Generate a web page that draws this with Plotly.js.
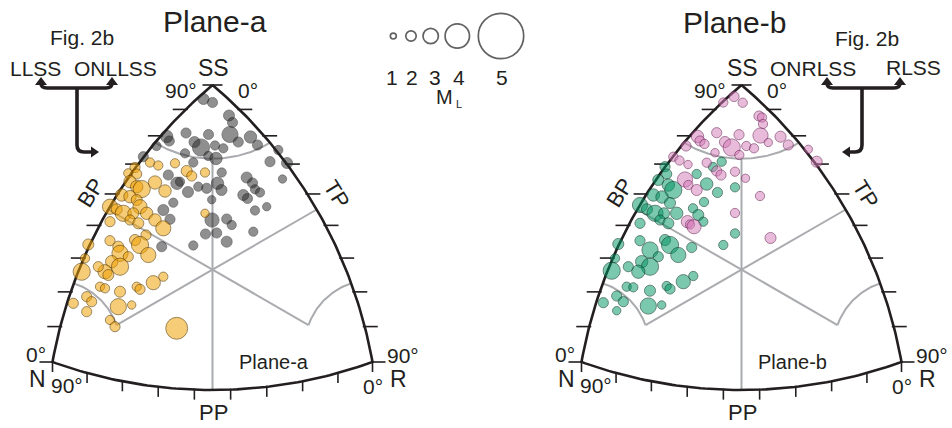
<!DOCTYPE html>
<html><head><meta charset="utf-8">
<script src="https://cdn.plot.ly/plotly-3.0.1.min.js"></script>
<style>html,body{margin:0;padding:0;background:#fff}#chart{width:952px;height:428px}</style>
</head><body><div id="chart"></div>
<script>
// ---------------- DATA (projected diagram coordinates, local magnitude ML) ----------------
// Plane-a (left diagram)
const grayX = [203.5,212.5,229,232.5,186,208.5,230,238.3,250.5,257.5,166.7,169.3,156.5,194.5,201,215,223.3,208.3,216,185,193.3,143.3,278.3,287,270,282.5,168.3,177,188,180,198.3,206.7,217.5,221.5,221.7,246.7,252.5,243.3,247.5,255,260,255,266.7,173.3,211.7,212,226.7,231.7,205.5,216.7,226.7,193.3,170,163.3,161.7,253.3];
const grayY = [99,102.5,115.5,122.5,133,134.5,134.5,142,137,145,136.5,141,146,142,147.5,145.5,148.3,156,158.5,153.3,162.5,156.7,150,163,161.7,179,175,183.3,192,181.7,186.7,188.3,183.3,190,172.5,177.5,183,195,198.5,189.3,192.5,210.5,206.7,202.7,199.7,220,219,225,234,233,241.7,245.5,219.3,210,246.7,231.7];
const grayML = [1.3,1.1,1.3,1.1,1.1,1.1,2.4,1.1,1.6,1.1,1.6,1.1,0.9,1.3,2.6,0.9,0.9,0.9,1.6,0.9,0.9,1.1,0.9,1.3,1.1,0.7,1.1,1.6,1.3,0.9,0.9,1.1,1.6,1.3,0.9,1.3,1.1,1.3,1.1,0.9,0.9,0.9,0.7,0.9,0.7,2.0,1.1,0.9,1.1,1.1,1.3,0.9,1.1,1.3,1.1,0.9];

const orangeX = [150,158.3,175,186.7,191.7,205,135,128.3,136.7,130,136.7,141.7,155,165,121.7,130,136.7,140,110,116.7,123.3,133.3,146.7,130,138.3,155,163.3,110,88.3,110,135,146,140,148.3,118.3,120,128.3,111.7,120,105,108.3,98.3,85,81.7,100,105,120,136.7,140,153.3,163.3,86.7,91.7,73.3,86.7,118.3,131.7,110,115,176.7,205];
const orangeY = [162.5,165.5,163.3,171,176,172.5,167.5,173.3,174,181.7,186.7,189,182.5,191,195,196.7,200,206.7,206.7,209.3,213.3,213.3,213.3,220,223.3,220,228.3,221.7,244.5,240.7,240,235,245,255,246.7,253.3,256.7,261.7,266.7,271.7,275,266.7,258.3,271.7,286.7,288.3,291.7,286.7,289.3,282.7,276.7,296.7,301.7,303.3,311.7,306.7,305,320,326.7,328.3,213.3];
const orangeML = [0.9,0.9,0.9,1.3,1.1,0.9,1.1,0.9,1.1,1.6,1.6,2.6,1.8,1.6,1.6,1.6,1.3,2.0,2.2,1.3,2.4,1.3,1.6,1.1,1.3,1.6,2.2,1.1,1.3,1.1,1.3,1.1,2.6,2.2,1.3,2.4,1.1,1.6,2.6,2.0,1.3,1.1,0.9,2.6,0.9,0.9,1.3,0.9,1.1,2.0,0.9,1.1,1.1,1.1,1.1,2.4,0.7,0.9,1.1,3.3,0.7];

// Plane-b (right diagram)
const pinkX = [205,194.3,213.7,230,233,234,187.7,210,231.5,251.5,239.3,259.3,168.5,171,175.5,157,196,202.7,217.3,225,186,210.3,144.3,150.5,159,177.7,187.7,192,206,216.5,156,159.3,167.7,231,206,158.5,161,165,241.5,279.3,287.7];
const pinkY = [96.5,102.5,102.7,116,117.5,124,132.7,134.7,135.5,136.7,142.5,145,136.5,141,144,146,142,147.5,146,148.3,152.7,155,156.7,160.5,164.5,162.7,171,175,171.7,178.3,179.5,185,190,196,213,221.7,224.5,226.7,238,149.3,161.7];
const pinkML = [1.1,0.9,0.9,1.1,0.9,0.9,1.1,1.1,2.2,1.3,0.7,1.1,1.6,1.1,0.9,1.1,1.3,2.6,0.9,0.9,0.7,0.9,0.9,0.9,0.7,0.9,1.1,1.1,0.9,0.7,2.2,0.9,1.3,0.9,0.9,1.6,0.9,2.0,1.3,0.7,1.3];

const greenX = [136,137.7,129.3,139.3,144.3,124.3,133,141,111,118,126,135,147.7,131,139.3,111,167.7,177.7,188.5,192.7,184,206,175,164,169.3,174.3,206,194.3,162.7,136,111,141,149.3,121,129.3,89.3,112.7,121,109.3,99.3,86,82.7,97.7,104.3,121,137.7,141,154.3,164.3,87.7,94.3,74.3,87.7,119.3,132.7];
const greenY = [166.7,174,180,185,190,195,197,203,205,209.3,213.3,213.3,213.3,220,223.3,223.3,174,184,192.5,161.7,167,187.3,202,208.3,215,221.7,233.5,245,247.5,240,240.7,245,255,250,256.7,244,261.7,266.7,271.7,266.7,258.3,270.7,286.7,287.3,290.7,286,289,281.7,276,296,301.7,302.7,310.7,306,305];
const greenML = [1.1,1.1,1.3,1.6,2.6,1.6,1.6,1.3,2.2,1.3,2.4,1.3,1.6,1.1,1.3,1.1,0.9,1.6,1.1,0.9,0.9,0.9,0.9,0.9,1.3,0.9,0.9,0.9,1.1,1.3,1.1,2.6,2.2,2.4,1.1,1.3,1.6,2.6,1.8,1.1,0.9,2.6,0.9,0.9,1.3,0.9,1.1,2.0,0.9,1.1,1.1,1.1,0.7,2.4,0.7];

// magnitude key
const magLevels = [1,2,3,4,5];
const magLabels = ['1','2','3','4','5'];

// ---------------- STYLE ----------------
const FONT = 'Liberation Sans, Arial, Helvetica, sans-serif';
const INK = '#231f20';
const GREY = '#a9abae';
const keyDiam = [7.5,12,17,26,47];           // outer diameter (px) of the ML 1..5 key circles
function diamFor(m){
  if (m <= 1) return keyDiam[0] + (m-1)*(keyDiam[1]-keyDiam[0]);
  const i = Math.min(Math.floor(m)-1, 3);
  return keyDiam[i] + (m-(i+1))*(keyDiam[i+1]-keyDiam[i]);
}

// ---------------- DIAGRAM GEOMETRY (shared by both panels) ----------------
const A=[212.5,85], L=[52.5,362], R=[372.5,362];
const C=[(A[0]+L[0]+R[0])/3,(A[1]+L[1]+R[1])/3];
const SAG=28;
function arc(p0,p1,s,away){
  const mx=(p0[0]+p1[0])/2, my=(p0[1]+p1[1])/2;
  const dx=p1[0]-p0[0], dy=p1[1]-p0[1], c=Math.hypot(dx,dy);
  let ux=-dy/c, uy=dx/c;
  if ((mx-away[0])*ux+(my-away[1])*uy<0){ux=-ux;uy=-uy;}
  const r=(c*c/4+s*s)/(2*s);
  const ox=mx+ux*(s-r), oy=my+uy*(s-r);
  const a0=Math.atan2(p0[1]-oy,p0[0]-ox);
  let da=Math.atan2(p1[1]-oy,p1[0]-ox)-a0;
  while(da>Math.PI)da-=2*Math.PI; while(da<-Math.PI)da+=2*Math.PI;
  return t=>[ox+r*Math.cos(a0+da*t), oy+r*Math.sin(a0+da*t)];
}
function sample(f,xs,ys,n=80,rev=false){
  for(let i=0;i<=n;i++){const p=f(rev?1-i/n:i/n);xs.push(p[0]);ys.push(p[1]);}
}
const lerp=(p,q,t)=>[p[0]+(q[0]-p[0])*t,p[1]+(q[1]-p[1])*t];
const eL=arc(A,L,SAG,C), eB=arc(L,R,SAG,C), eR=arc(A,R,SAG,C);

function frameTraces(xa){
  const out=[];
  const gx=[],gy=[];
  const seg=(f)=>{sample(f,gx,gy,60);gx.push(null);gy.push(null);};
  const ss=arc(eL(0.25),eR(0.25),16,A); seg(ss);
  const nC=lerp(C,L,0.6), rC=lerp(C,R,0.6);
  seg(arc(eL(0.75),nC,7,L)); seg(arc(eR(0.75),rC,7,R));
  [ss(0.5),eB(0.5),eL(0.5),eR(0.5),nC,rC].forEach(p=>{gx.push(C[0],p[0],null);gy.push(C[1],p[1],null);});
  out.push({x:gx,y:gy,xaxis:xa,yaxis:'y',mode:'lines',line:{color:GREY,width:2},hoverinfo:'skip'});
  const ox=[],oy=[];
  sample(eL,ox,oy); sample(eB,ox,oy); sample(eR,ox,oy,80,true);
  out.push({x:ox,y:oy,xaxis:xa,yaxis:'y',mode:'lines',line:{color:INK,width:2.6},hoverinfo:'skip'});
  const tx=[],ty=[];
  for(let k=1;k<9;k++){
    let p=eL(k/9); tx.push(p[0]+2,p[0]-13,null); ty.push(p[1],p[1],null);
    p=eR(k/9); tx.push(p[0]-2,p[0]+13,null); ty.push(p[1],p[1],null);
    p=eB(k/9); tx.push(p[0],p[0],null); ty.push(p[1]-1,p[1]+10,null);
  }
  tx.push(A[0]-10,A[0]+10,null); ty.push(A[1],A[1],null);
  tx.push(L[0],L[0]-13,null,L[0],L[0],null); ty.push(L[1],L[1],null,L[1],L[1]+10,null);
  tx.push(R[0],R[0]+13,null,R[0],R[0],null); ty.push(R[1],R[1],null,R[1],R[1]+10,null);
  out.push({x:tx,y:ty,xaxis:xa,yaxis:'y',mode:'lines',line:{color:INK,width:1.6},hoverinfo:'skip'});
  return out;
}
function pts(x,y,ml,xa,fill,edge){
  return {x:x,y:y,xaxis:xa,yaxis:'y',mode:'markers',hoverinfo:'skip',
    marker:{size:ml.map(m=>diamFor(m)+2.2),color:fill,line:{color:edge,width:1}}};
}

const traces=[
  ...frameTraces('x'), ...frameTraces('x2'),
  pts(grayX,grayY,grayML,'x','rgba(40,40,40,0.74)','rgba(20,20,20,0.6)'),
  pts(orangeX,orangeY,orangeML,'x','rgba(240,160,0,0.76)','rgba(90,60,0,0.85)'),
  pts(greenX,greenY,greenML,'x2','rgba(0,150,100,0.74)','rgba(10,60,40,0.85)'),
  pts(pinkX,pinkY,pinkML,'x2','rgba(214,122,184,0.72)','rgba(110,40,90,0.85)'),
  {x:[393.3,411,430.7,457.3,501],y:magLevels.map(()=>36),xaxis:'x',yaxis:'y',mode:'markers',hoverinfo:'skip',
   marker:{size:magLevels.map(m=>diamFor(m)-1.6),color:'rgba(0,0,0,0)',line:{color:INK,width:1.7}}}
];

// ---------------- TEXT ----------------
const ann=[];
function T(x,y,text,size,xref,extra){ann.push(Object.assign({x:x,y:y,xref:xref||'x',yref:'y',text:text,showarrow:false,
  xanchor:'center',yanchor:'middle',borderpad:0,font:{family:FONT,size:size,color:INK}},extra||{}));}
['x','x2'].forEach(xa=>{
  T(213,68,'SS',23,xa); T(181,90,'90°',21,xa); T(248,90,'0°',21,xa);
  T(90,193,'BP',22,xa,{textangle:-58}); T(337,194,'TP',22,xa,{textangle:58});
  T(36,354,'0°',21,xa); T(37,379,'N',23,xa); T(67,385,'90°',21,xa);
  T(403,355,'90°',21,xa); T(373,386,'0°',21,xa); T(398,379,'R',23,xa);
  T(213,412,'PP',22,xa);
});
T(214.5,21,'Plane-a',30,'x'); T(205,22,'Plane-b',30,'x2');
T(274,362,'Plane-a',20,'x'); T(263.5,362,'Plane-b',20,'x2');
T(81.7,37,'Fig. 2b',21,'x'); T(35,68,'LLSS',21,'x'); T(115,68,'ONLLSS',21,'x');
T(866.7,38,'Fig. 2b',21,'x'); T(813.3,68,'ONRLSS',21,'x'); T(913.3,67,'RLSS',21,'x');
magLabels.forEach((s,i)=>T([391.7,411.7,435,459.3,501.7][i],77,s,21,'x'));
T(445,97,'M',20,'x',{xanchor:'right',x:454}); T(455,104,'L',11,'x',{xanchor:'left'});

// arrows (decorative pointers)
const shp=[];
function P(path,fill){shp.push({type:'path',xref:'x',yref:'y',path:path,
  line:{color:INK,width:fill?0:3.6},fillcolor:fill?INK:'rgba(0,0,0,0)'});}
P('M 41 83 Q 41 88 47 88 L 106 88 Q 112 88 112 83');
P('M 77 88 L 77 145 Q 77 152 84 152 L 92 152');
P('M 35 85 L 41 77 L 47 85 Z',1); P('M 106 85 L 112 77 L 118 85 Z',1); P('M 91 146.5 L 99 152 L 91 157.5 Z',1);
P('M 827 83 Q 827 88 833 88 L 894 88 Q 900 88 900 83');
P('M 862 88 L 862 145 Q 862 152 855 152 L 849 152');
P('M 821 85 L 827 77 L 833 85 Z',1); P('M 894 85 L 900 77 L 906 85 Z',1); P('M 850 146.5 L 842 152 L 850 157.5 Z',1);

const layout={width:952,height:428,margin:{l:0,r:0,t:0,b:0},paper_bgcolor:'#ffffff',plot_bgcolor:'rgba(0,0,0,0)',
  showlegend:false,hovermode:false,
  xaxis:{range:[0,952],visible:false,fixedrange:true},
  xaxis2:{range:[-529,423],visible:false,overlaying:'x',anchor:'y',fixedrange:true},
  yaxis:{range:[428,0],visible:false,fixedrange:true},
  shapes:shp,annotations:ann};
Plotly.newPlot('chart',traces,layout,{staticPlot:true,displayModeBar:false});
</script></body></html>
